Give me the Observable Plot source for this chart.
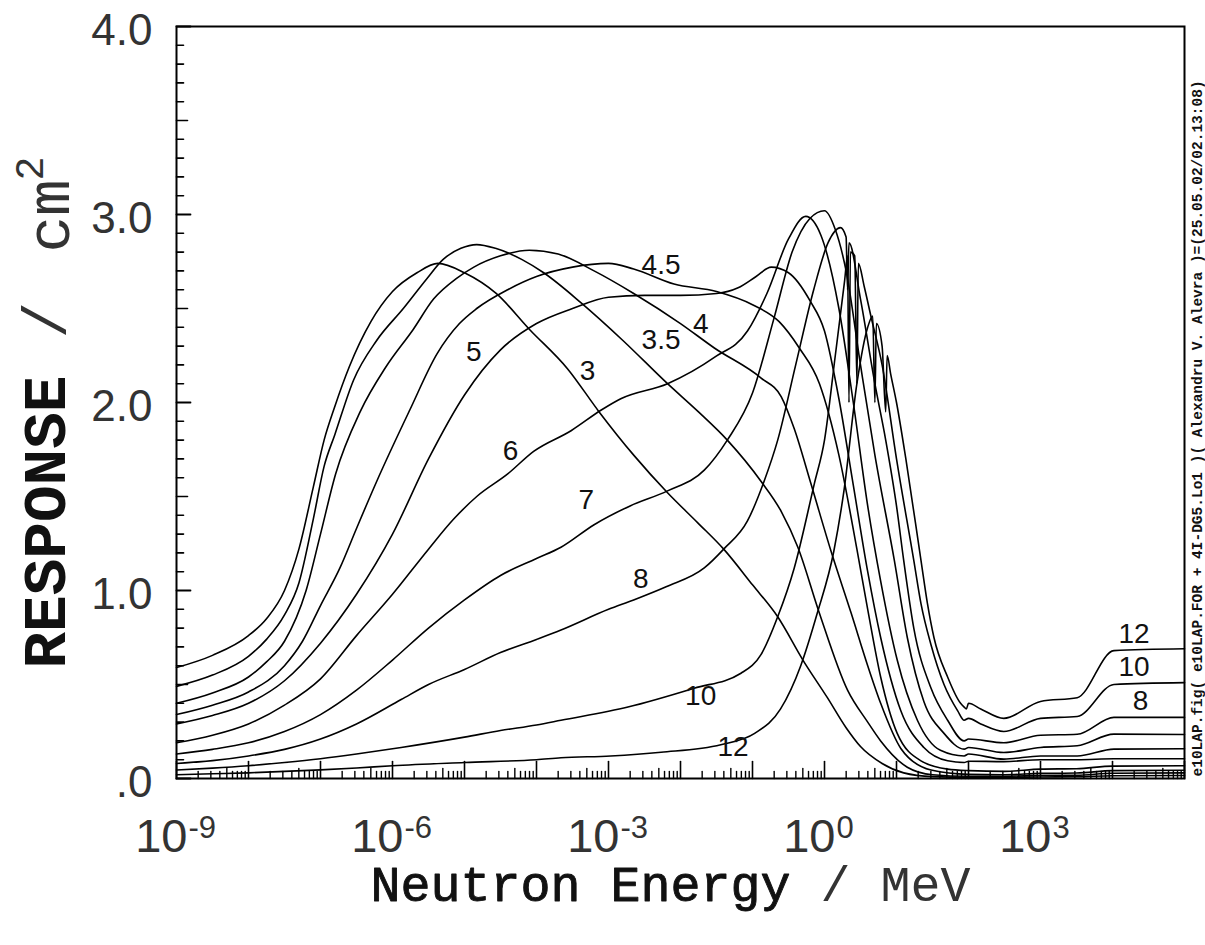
<!DOCTYPE html>
<html><head><meta charset="utf-8">
<script src="https://cdn.jsdelivr.net/npm/d3@7"></script>
<script src="https://cdn.jsdelivr.net/npm/@observablehq/plot@0.6"></script>
<style>body{margin:0;background:#fff}#chart{width:1205px;height:945px}</style>
</head><body><div id="chart"></div>
<script>
// Bonner sphere responses: [log10(E / MeV), response / cm^2]
const sphere3 = [[-9,0.59],[-8.5,0.655],[-8,0.76],[-7.75,0.85],[-7.5,1.0],[-7.3,1.22],[-7.1,1.55],[-6.95,1.8],[-6.8,1.98],[-6.6,2.19],[-6.3,2.43],[-6,2.59],[-5.66,2.69],[-5.37,2.74],[-5,2.69],[-4.56,2.58],[-4.1,2.39],[-3.57,2.18],[-3.13,1.95],[-2.65,1.72],[-2.18,1.52],[-1.76,1.36],[-1.4,1.22],[-1,1.03],[-0.65,0.86],[-0.3,0.63],[0.04,0.43],[0.3,0.27],[0.5,0.17],[0.8,0.08],[1.1,0.03],[1.5,0.01],[2,0.006],[2.5,0.006],[3,0.008],[3.5,0.009],[4,0.015],[5,0.016]];
const sphere3_5 = [[-9,0.49],[-8.5,0.55],[-8,0.65],[-7.75,0.74],[-7.5,0.87],[-7.3,1.04],[-7.1,1.38],[-6.95,1.66],[-6.8,1.83],[-6.54,2.12],[-6.22,2.33],[-5.85,2.5],[-5.52,2.66],[-5.3,2.76],[-5.05,2.82],[-4.83,2.84],[-4.57,2.82],[-4.2,2.76],[-3.9,2.69],[-3.38,2.53],[-2.8,2.33],[-2.18,2.1],[-1.75,1.95],[-1.35,1.8],[-0.88,1.58],[-0.6,1.42],[-0.37,1.23],[-0.08,0.89],[0.32,0.47],[0.6,0.3],[0.78,0.2],[1.15,0.06],[1.5,0.02],[2,0.012],[2.5,0.012],[3,0.016],[3.5,0.017],[4,0.028],[5,0.03]];
const sphere4 = [[-9,0.40],[-8.5,0.455],[-8,0.54],[-7.75,0.62],[-7.5,0.73],[-7.2,1.0],[-7,1.3],[-6.79,1.62],[-6.45,1.95],[-6.09,2.19],[-5.71,2.39],[-5.43,2.55],[-5.11,2.66],[-4.87,2.72],[-4.5,2.78],[-4.1,2.81],[-3.7,2.79],[-3.2,2.7],[-2.65,2.58],[-2.0,2.42],[-1.53,2.29],[-0.88,2.13],[-0.6,2.03],[-0.42,1.86],[-0.19,1.57],[0.09,1.21],[0.37,0.88],[0.6,0.6],[0.78,0.4],[1.06,0.16],[1.48,0.045],[2,0.022],[2.5,0.02],[3,0.027],[3.5,0.029],[4,0.042],[5,0.044]];
const sphere4_5 = [[-9,0.34],[-8.5,0.39],[-8,0.46],[-7.5,0.6],[-7.25,0.73],[-7,0.92],[-6.73,1.12],[-6.5,1.33],[-6.22,1.58],[-5.76,1.96],[-5.38,2.26],[-5.07,2.42],[-4.83,2.5],[-4.4,2.6],[-4,2.67],[-3.5,2.72],[-3,2.74],[-2.65,2.71],[-2.09,2.63],[-1.5,2.59],[-1,2.52],[-0.63,2.43],[-0.35,2.29],[-0.07,2.1],[0.2,1.72],[0.45,1.22],[0.6,0.9],[0.78,0.54],[1.01,0.24],[1.34,0.094],[1.71,0.05],[2,0.042],[2.5,0.038],[3,0.05],[3.5,0.052],[4,0.066],[5,0.068]];
const sphere5 = [[-9,0.29],[-8.5,0.335],[-8,0.4],[-7.5,0.52],[-7,0.72],[-6.5,0.98],[-6,1.3],[-5.5,1.7],[-5,2.04],[-4.5,2.28],[-4,2.42],[-3.5,2.5],[-3,2.56],[-2.5,2.57],[-2,2.57],[-1.5,2.58],[-1.2,2.61],[-0.95,2.67],[-0.74,2.72],[-0.5,2.69],[-0.2,2.54],[0,2.38],[0.2,2.02],[0.4,1.56],[0.6,1.1],[0.78,0.75],[1.06,0.36],[1.38,0.165],[1.71,0.094],[1.94,0.085],[2.0,0.092],[2.49,0.09],[3,0.1],[3.51,0.1],[4.02,0.105],[5,0.105]];
const sphere6 = [[-9,0.19],[-8.5,0.23],[-8,0.29],[-7.5,0.39],[-7,0.53],[-6.5,0.76],[-6,0.98],[-5.5,1.22],[-5.15,1.38],[-4.83,1.5],[-4.4,1.62],[-4.04,1.74],[-3.52,1.85],[-3.1,1.96],[-2.83,2.02],[-2.18,2.1],[-1.53,2.24],[-1.07,2.38],[-0.8,2.58],[-0.5,2.87],[-0.26,2.99],[-0.05,2.89],[0.2,2.5],[0.4,2.0],[0.6,1.45],[0.78,1.05],[1.01,0.63],[1.29,0.31],[1.61,0.15],[1.94,0.12],[2.0,0.13],[2.49,0.103],[3,0.12],[3.51,0.12],[4.02,0.156],[5,0.158]];
const sphere7 = [[-9,0.13],[-8.5,0.155],[-8,0.19],[-7.5,0.25],[-7,0.34],[-6.5,0.47],[-6,0.63],[-5.5,0.8],[-5,0.95],[-4.5,1.08],[-4,1.17],[-3.66,1.23],[-3.2,1.35],[-2.7,1.45],[-2.18,1.53],[-1.67,1.64],[-1.35,1.8],[-1.0,2.05],[-0.7,2.45],[-0.45,2.8],[-0.2,2.98],[0.0,3.02],[0.15,2.92],[0.3,2.7],[0.5,2.2],[0.7,1.72],[0.97,1.16],[1.15,0.75],[1.38,0.41],[1.66,0.24],[1.94,0.156],[2.0,0.165],[2.49,0.138],[3,0.165],[3.51,0.174],[4.02,0.236],[5,0.234]];
const sphere8 = [[-9,0.08],[-8.5,0.095],[-8,0.12],[-7.5,0.155],[-7,0.21],[-6.5,0.29],[-5.88,0.42],[-5.5,0.5],[-5,0.58],[-4.5,0.67],[-4,0.74],[-3.66,0.79],[-3,0.9],[-2.65,0.95],[-2.2,1.02],[-1.67,1.12],[-1.4,1.22],[-1.07,1.37],[-0.84,1.58],[-0.65,1.8],[-0.4,2.2],[-0.15,2.6],[0.05,2.85],[0.22,2.93],[0.3,2.88],[0.32,2.6],[0.34,2.85],[0.5,2.55],[0.7,2.1],[0.85,1.8],[1.0,1.45],[1.1,1.16],[1.24,0.8],[1.48,0.48],[1.71,0.31],[1.94,0.2],[2.0,0.21],[2.49,0.19],[3,0.23],[3.51,0.235],[4.02,0.325],[5,0.325]];
const sphere10 = [[-9,0.045],[-8.5,0.055],[-8,0.068],[-7.5,0.085],[-7,0.105],[-6.5,0.13],[-5.88,0.165],[-5,0.22],[-4.5,0.255],[-4,0.285],[-3.66,0.31],[-2.73,0.38],[-1.81,0.48],[-1.16,0.56],[-0.88,0.66],[-0.65,0.86],[-0.42,1.12],[-0.14,1.57],[0.0,1.8],[0.15,2.25],[0.28,2.65],[0.32,2.78],[0.34,2.0],[0.36,2.8],[0.42,2.78],[0.45,2.1],[0.47,2.74],[0.55,2.62],[0.65,2.45],[0.8,2.2],[1.0,1.7],[1.24,1.16],[1.34,0.93],[1.48,0.71],[1.66,0.5],[1.85,0.36],[1.94,0.31],[2.0,0.32],[2.17,0.29],[2.49,0.25],[3,0.32],[3.51,0.33],[4.02,0.5],[5,0.51]];
const sphere12 = [[-9,0.02],[-8.5,0.025],[-8,0.03],[-7.5,0.038],[-7,0.046],[-6.5,0.056],[-6,0.068],[-5,0.085],[-4,0.1],[-3.66,0.11],[-2.97,0.12],[-2.27,0.14],[-1.44,0.18],[-0.97,0.24],[-0.61,0.37],[-0.33,0.6],[-0.1,0.88],[0.13,1.21],[0.27,1.53],[0.45,2.1],[0.6,2.4],[0.67,2.46],[0.7,2.0],[0.72,2.42],[0.8,2.3],[0.85,1.95],[0.87,2.25],[0.92,2.15],[1.0,2.0],[1.13,1.7],[1.34,1.16],[1.43,0.93],[1.52,0.75],[1.71,0.54],[1.89,0.40],[1.94,0.38],[1.97,0.37],[2.0,0.4],[2.17,0.37],[2.49,0.32],[3,0.41],[3.51,0.43],[4.02,0.68],[5,0.69]];

const sphereNames = ["3","3.5","4","4.5","5","6","7","8","10","12"];
const sphereData = [sphere3, sphere3_5, sphere4, sphere4_5, sphere5, sphere6, sphere7, sphere8, sphere10, sphere12];

// curve labels
const labelText = ["4.5","4","3.5","5","3","6","7","8","10","12","12","10","8"];
const labelLogE = [-2.27,-1.72,-2.27,-4.87,-3.29,-4.36,-3.31,-2.55,-1.72,-1.27,4.30,4.30,4.39];
const labelR = [2.73,2.42,2.33,2.27,2.17,1.74,1.48,1.06,0.44,0.17,0.77,0.594,0.413];

// axes
const yMajor = [0,1,2,3,4];
const yTickLabels = [".0","1.0","2.0","3.0","4.0"];
const yMinor = d3.range(1,40).map(i => i/10).filter(v => Math.abs(v*2 - Math.round(v*2)) > 1e-6);
const yMedium = [0.5,1.5,2.5,3.5];
const xDecades = d3.range(-9,6);
const xLabelExp = [-9,-6,-3,0,3];
const xMinorMult = [2,3,4,6,7,8,9];
const xFiveMult = [5];
const sideNote = "e10LAP.fig( e10LAP.FOR + 4I-DG5.Lo1 )( Alexandru V. Alevra )=(25.05.02/02.13:08)";

const rows = sphereData.flatMap((pts, k) => pts.map(([lg, r]) => ({sphere: sphereNames[k], E: 10 ** lg, R: r})));
const labels = labelText.map((t, i) => ({t, E: 10 ** labelLogE[i], R: labelR[i]}));
const xMinor = xDecades.slice(0, -1).flatMap(e => xMinorMult.map(m => m * 10 ** e));
const xFive = xDecades.slice(0, -1).flatMap(e => xFiveMult.map(m => m * 10 ** e));
const xLab = xLabelExp.map(e => ({E: 10 ** e, exp: String(e)}));

const sans = "Liberation Sans, Arial, sans-serif";
const mono = "Liberation Mono, DejaVu Sans Mono, monospace";
// plain line shape for tick vectors (no arrowhead)
const stick = {draw(context, l) { context.moveTo(0, 0); context.lineTo(0, -l); }};
const tickOpts = {anchor: "start", shape: stick, stroke: "black"};

const chart = Plot.plot({
  width: 1205, height: 945,
  marginLeft: 176, marginRight: 21, marginTop: 26, marginBottom: 167,
  style: {background: "white"},
  x: {type: "log", domain: [1e-9, 1e5], axis: null},
  y: {domain: [0, 4], axis: null},
  marks: [
    Plot.line(rows, {x: "E", y: "R", z: "sphere", stroke: "black", strokeWidth: 1.6, curve: "monotone-x"}),
    // y ticks (inward)
    Plot.vector(yMinor, {y: d => d, frameAnchor: "left", length: 7, rotate: 90, strokeWidth: 1.6, ...tickOpts}),
    Plot.vector(yMedium, {y: d => d, frameAnchor: "left", length: 11, rotate: 90, strokeWidth: 1.6, ...tickOpts}),
    Plot.vector(yMajor, {y: d => d, frameAnchor: "left", length: 14, rotate: 90, strokeWidth: 1.8, ...tickOpts}),
    // x ticks (inward)
    Plot.vector(xMinor, {x: d => d, frameAnchor: "bottom", length: 7, rotate: 0, strokeWidth: 1.4, ...tickOpts}),
    Plot.vector(xFive, {x: d => d, frameAnchor: "bottom", length: 10, rotate: 0, strokeWidth: 1.4, ...tickOpts}),
    Plot.vector(xDecades, {x: d => 10 ** d, frameAnchor: "bottom", length: 17, rotate: 0, strokeWidth: 1.6, ...tickOpts}),
    Plot.frame({stroke: "black", strokeWidth: 2}),
    // y tick labels
    Plot.text(yMajor, {y: d => d, text: (d, i) => yTickLabels[i], frameAnchor: "left", dx: -24, dy: 4, textAnchor: "end", lineAnchor: "middle", fontSize: 44, fontFamily: sans, fill: "#333"}),
    // x tick labels 10^n
    Plot.text(xLab, {x: "E", text: () => "10", frameAnchor: "bottom", dx: 11, dy: 73, textAnchor: "end", lineAnchor: "bottom", fontSize: 47, fontFamily: sans, fill: "#333"}),
    Plot.text(xLab, {x: "E", text: "exp", frameAnchor: "bottom", dx: 12, dy: 59, textAnchor: "start", lineAnchor: "bottom", fontSize: 31, fontFamily: sans, fill: "#333"}),
    // curve labels
    Plot.text(labels, {x: "E", y: "R", text: "t", fontSize: 28, fontFamily: sans, fill: "#111", lineAnchor: "middle"}),
    // axis titles
    Plot.text(["Neutron Energy"], {frameAnchor: "bottom-left", dx: 194, dy: 122, textAnchor: "start", lineAnchor: "bottom", fontSize: 50, fontFamily: mono, fill: "#111", stroke: "#111", strokeWidth: 0.9}),
    Plot.text(["/ MeV"], {frameAnchor: "bottom-left", dx: 644, dy: 122, textAnchor: "start", lineAnchor: "bottom", fontSize: 50, fontFamily: mono, fill: "#333"}),
    Plot.text(["RESPONSE"], {frameAnchor: "left", dx: -131, dy: 266, rotate: -90, textAnchor: "start", lineAnchor: "middle", fontSize: 61, fontWeight: "bold", fontFamily: mono, fill: "#111"}),
    Plot.text(["/"], {frameAnchor: "left", dx: -131, dy: -64, rotate: -90, textAnchor: "start", lineAnchor: "middle", fontSize: 61, fontFamily: mono, fill: "#333"}),
    Plot.text(["cm"], {frameAnchor: "left", dx: -127, dy: -150, rotate: -90, textAnchor: "start", lineAnchor: "middle", fontSize: 61, fontFamily: mono, fill: "#333"}),
    Plot.text(["2"], {frameAnchor: "left", dx: -146, dy: -222, rotate: -90, textAnchor: "start", lineAnchor: "middle", fontSize: 40, fontFamily: mono, fill: "#333"}),
    // side note
    Plot.text([sideNote], {frameAnchor: "bottom-right", dx: 13, dy: -2, rotate: -90, textAnchor: "start", lineAnchor: "middle", fontSize: 14.5, fontWeight: "bold", fontFamily: mono, fill: "#111"})
  ]
});
document.getElementById("chart").appendChild(chart);
</script>
</body></html>
